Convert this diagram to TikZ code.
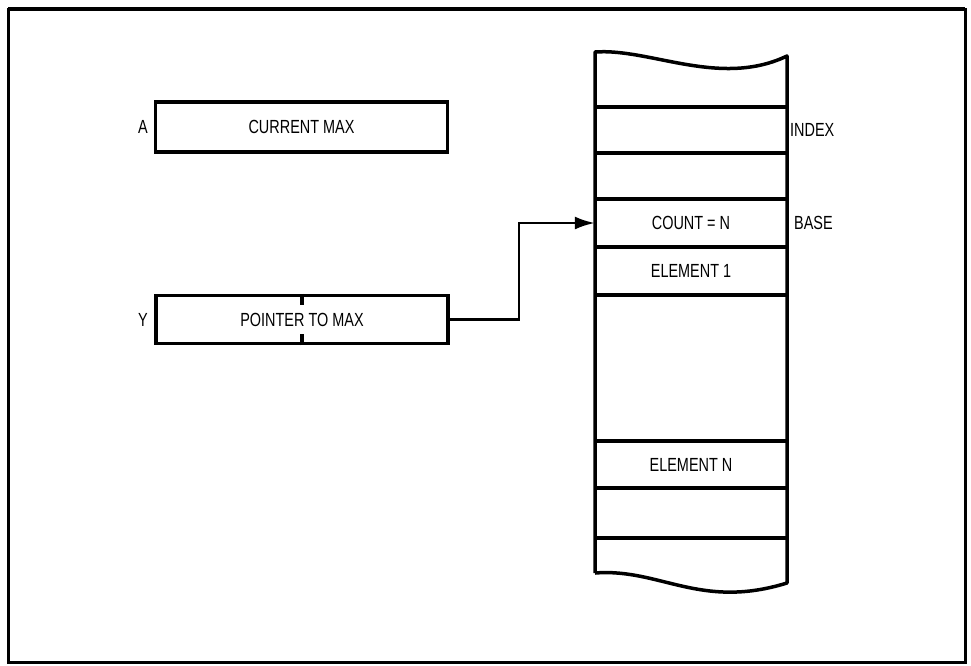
\documentclass[tikz,border=0pt]{standalone}
\usepackage{fontspec}
\setmainfont[FakeStretch=0.76]{Liberation Sans}
\usetikzlibrary{arrows.meta}
\tikzset{
  txt/.style={font=\fontsize{19}{22}\selectfont},
  lbl/.style={txt, inner sep=0pt},
  regbox/.style={txt, draw, line width=3.5pt, minimum width=292pt, minimum height=48pt, inner sep=0pt},
  cell/.style={txt, minimum width=192pt, minimum height=47pt, inner sep=0pt},
  heavy/.style={line width=3.5pt},
  conn/.style={line width=2.5pt, -{Latex[length=20pt,width=13pt]}}
}
\begin{document}
\begin{tikzpicture}[x=1pt,y=-1pt]
\useasboundingbox (0,0) rectangle (971,665);
\fill[white] (0,0) rectangle (971,665);
% frame
\draw[line width=3pt] (8,9) rectangle (965,662);
\draw[line width=4.5pt] (8,9) -- (965,9);

% registers
\node[regbox, minimum height=50pt] (abox) at (301.5,127) {CURRENT MAX};
\node[lbl, anchor=east] (alab) at (148,127) {A};
\node[regbox] (ybox) at (302,319.5) {POINTER TO MAX};
\node[lbl, anchor=east] (ylab) at (148,320) {Y};
\draw[heavy] (ybox.north) -- ++(0,11);
\draw[heavy] (ybox.south) -- ++(0,-11);

% memory stack outline
\coordinate (tl) at (595,52);
\coordinate (tr) at (787,56);
\coordinate (bl) at (595,573);
\coordinate (br) at (787,583);
\draw[heavy, line join=round] (bl) -- (tl)
  .. controls (650,48) and (720,88) .. (tr) -- (br)
  .. controls (700,610) and (660,568) .. (bl);
\foreach \yy in {107,153,199,247,295,441,488,538}
  \draw[heavy] (595,\yy) -- (787,\yy);

% cells
\node[cell] (index) at (691,130) {};
\node[cell] (count) at (691,223) {COUNT = N};
\node[cell] (elem1) at (691,271) {ELEMENT 1};
\node[cell] (elemn) at (691,465) {ELEMENT N};
\node[lbl, anchor=west] (indexlab) at (790,130) {INDEX};
\node[lbl, anchor=west] (baselab) at (794,223) {BASE};

% pointer
\draw[conn] (ybox.east) -- ++(69,0) |- (count.west);
\end{tikzpicture}
\end{document}
